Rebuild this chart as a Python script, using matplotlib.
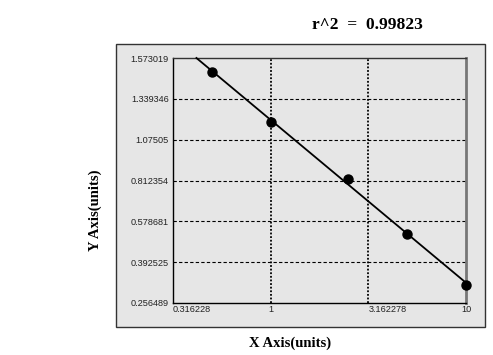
import numpy as np
import matplotlib
matplotlib.use("Agg")
import matplotlib.pyplot as plt
from matplotlib.patches import Rectangle

# data
x_vals = [0.5, 1.0, 2.5, 5.0, 10.0]
y_vals = [1.4929, 1.1913, 0.8221, 0.5197, 0.3165]
r2_text = "r^2  =  0.99823"

x_ticks = [0.316228, 1.0, 3.162278, 10.0]
x_tick_labels = ["0.316228", "1", "3.162278", "10"]
y_ticks = [0.256489, 0.392525, 0.578681, 0.812354, 1.07505, 1.339346, 1.573019]
y_tick_labels = ["0.256489", "0.392525", "0.578681", "0.812354", "1.07505", "1.339346", "1.573019"]

W, H = 493, 355
fig = plt.figure(figsize=(W / 100, H / 100), dpi=100)
fig.patch.set_facecolor("white")

# grey panel behind the plot
panel = Rectangle((116 / W, 1 - 327 / H), (485 - 116) / W, (327 - 44) / H,
                  transform=fig.transFigure, facecolor="#e6e6e6",
                  edgecolor="#333333", linewidth=1.0, zorder=-10)
fig.patches.append(panel)

ax = fig.add_axes([173 / W, 1 - 303 / H, (466 - 173) / W, (303 - 58) / H])
ax.set_zorder(1)
ax.set_facecolor("#e6e6e6")

# y axis: tick values are evenly spaced on screen
idx = np.arange(len(y_ticks), dtype=float)
fwd = lambda v: np.interp(v, y_ticks, idx)
inv = lambda p: np.interp(p, idx, y_ticks)
ax.set_xscale("log")
ax.set_yscale("function", functions=(fwd, inv))
ax.set_xlim(x_ticks[0], x_ticks[-1])
ax.set_ylim(y_ticks[0], y_ticks[-1])

# fit line in screen space
lx = np.log10(x_vals)
ly = fwd(np.array(y_vals))
m, b = np.polyfit(lx, ly, 1)
x_start = 10 ** ((idx[-1] - b) / m)
xx = np.logspace(np.log10(x_start), np.log10(x_vals[-1]), 50)
yy = inv(m * np.log10(xx) + b)
ax.plot(xx, yy, color="black", lw=1.3, zorder=3, clip_on=False)
ax.plot(x_vals, y_vals, "o", color="black", ms=6.5, zorder=4, clip_on=False)

# grid
for yt in y_ticks[1:-1]:
    ax.axhline(yt, color="black", lw=0.8, ls=(0, (3, 2)), zorder=1)
for xt in x_ticks[1:-1]:
    ax.axvline(xt, color="black", lw=1.3, ls=(0, (1, 1)), zorder=1)

ax.set_xticks(x_ticks)
ax.set_xticklabels(x_tick_labels)
ax.xaxis.set_minor_locator(matplotlib.ticker.NullLocator())
ax.set_yticks(y_ticks)
ax.set_yticklabels(y_tick_labels)
ax.yaxis.set_minor_locator(matplotlib.ticker.NullLocator())
ax.tick_params(length=0, labelsize=6.6, colors="#222222")
ax.tick_params(axis="y", pad=3)
ax.tick_params(axis="x", pad=1.5)
for lab, ha in zip(ax.get_xticklabels(), ["left", "center", "left", "center"]):
    lab.set_ha(ha)
    lab.set_fontfamily("Liberation Sans")
for lab in ax.get_yticklabels():
    lab.set_fontfamily("Liberation Sans")

for s in ["left", "bottom"]:
    ax.spines[s].set_color("black")
    ax.spines[s].set_linewidth(1.0)
ax.spines["top"].set_color("#333333")
ax.spines["top"].set_linewidth(1.0)
ax.spines["right"].set_color("#777777")
ax.spines["right"].set_linewidth(2.0)

fig.text(367 / W, 1 - 25 / H, r2_text, ha="center", va="center",
         family="Liberation Serif", weight="bold", fontsize=12.5)
fig.text(290 / W, 1 - 343 / H, "X Axis(units)", ha="center", va="center",
         family="Liberation Serif", weight="bold", fontsize=10.5)
fig.text(95 / W, 1 - 210 / H, "Y Axis(units)", ha="center", va="center",
         rotation=90, family="Liberation Serif", weight="bold", fontsize=10.5)

fig.savefig("out.png", dpi=100)
